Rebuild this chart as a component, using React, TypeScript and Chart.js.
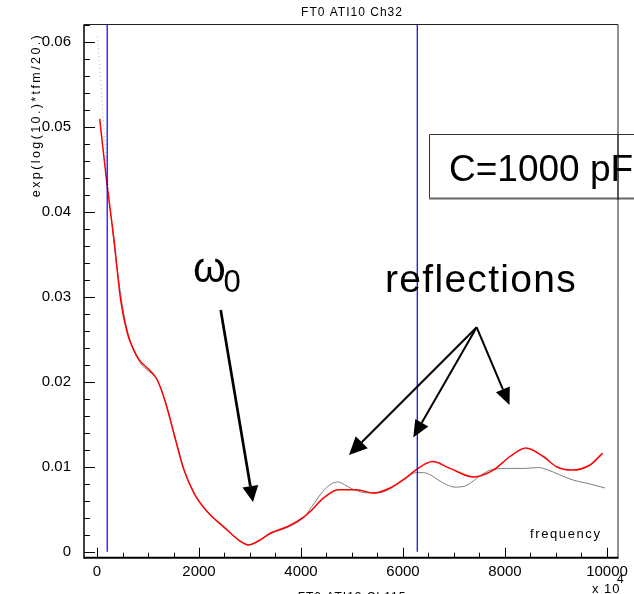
import React, { useEffect, useRef } from 'react';
import { Chart, registerables } from 'chart.js';

Chart.register(...registerables);

// ---- data ----
const redFreq = [53, 202, 333, 464, 595, 700, 824, 1020, 1183, 1346, 1542, 1706, 1902, 2163, 2490, 2817, 2967, 3144, 3405, 3750, 4059, 4176, 4438, 4732, 5092, 5418, 5745, 6039, 6268, 6582, 6922, 7379, 7771, 8098, 8412, 8751, 9013, 9307, 9667, 9915];
const redAmp = [0.0509, 0.0429, 0.0367, 0.0296, 0.0257, 0.0240, 0.0226, 0.0214, 0.0202, 0.0175, 0.0131, 0.0096, 0.0069, 0.0047, 0.0029, 0.0012, 0.0008, 0.0012, 0.0022, 0.0030, 0.0041, 0.0047, 0.0063, 0.0073, 0.0073, 0.0069, 0.0075, 0.0086, 0.0097, 0.0106, 0.0098, 0.0088, 0.0096, 0.0112, 0.0122, 0.0112, 0.0100, 0.0096, 0.0102, 0.0116];

const grayFreq = [6, 60, 104, 150, 235, 300, 400, 550, 700, 850, 1000, 1150, 1300, 1500, 1700, 1900, 2150, 2500, 2800, 2970, 3150, 3400, 3750, 4050, 4200, 4430, 4600, 4730, 4850, 5000, 5200, 5400, 5600, 5750, 6000, 6270, 6400, 6550, 6700, 6850, 7020, 7200, 7350, 7550, 7770, 8100, 8400, 8650, 8850, 9050, 9350, 9650, 9960];
const grayAmp = [0.0606, 0.0565, 0.0526, 0.0488, 0.0422, 0.0382, 0.0330, 0.0272, 0.0240, 0.0222, 0.0213, 0.0205, 0.0184, 0.0142, 0.0098, 0.0069, 0.0048, 0.0028, 0.0013, 0.0008, 0.0012, 0.0021, 0.0029, 0.0040, 0.0052, 0.0071, 0.0080, 0.0082, 0.0079, 0.0074, 0.0070, 0.0069, 0.0070, 0.0074, 0.0085, 0.0093, 0.0093, 0.0090, 0.0084, 0.0079, 0.0076, 0.0077, 0.0082, 0.0091, 0.0097, 0.0098, 0.0098, 0.0099, 0.0096, 0.0091, 0.0084, 0.0080, 0.0075];

const markerFreqs = [200, 6280];

const xTickValues = [0, 2000, 4000, 6000, 8000, 10000];
const yTickValues = [0, 0.01, 0.02, 0.03, 0.04, 0.05, 0.06];
const xMinorStep = 500;
const yMinorStep = 0.002;
const xRange = [-255, 10216];
const yRange = [-0.0007, 0.062];

const titleText = 'FT0 ATI10 Ch32';
const bottomCutText = 'FT0 ATI13 Ch115';
const yTitle = 'exp(log(10.)*tfm/20.)';
const xTitle = 'frequency';
const capLabel = 'C=1000 pF';
const omegaLabel = 'ω';
const omegaSub = '0';
const reflLabel = 'reflections';

const FONT = '"Liberation Sans", Arial, sans-serif';

function arrow(ctx: CanvasRenderingContext2D, x1: number, y1: number, x2: number, y2: number, lw: number, hl: number, hw: number) {
  const a = Math.atan2(y2 - y1, x2 - x1);
  const bx = x2 - hl * Math.cos(a);
  const by = y2 - hl * Math.sin(a);
  ctx.lineWidth = lw;
  ctx.beginPath();
  ctx.moveTo(x1, y1);
  ctx.lineTo(bx, by);
  ctx.stroke();
  const nx = -Math.sin(a), ny = Math.cos(a);
  ctx.beginPath();
  ctx.moveTo(x2, y2);
  ctx.lineTo(bx + nx * hw / 2, by + ny * hw / 2);
  ctx.lineTo(bx - nx * hw / 2, by - ny * hw / 2);
  ctx.closePath();
  ctx.fill();
}

const overlayPlugin = {
  id: 'overlay',
  afterDraw(chart: any) {
    const ctx: CanvasRenderingContext2D = chart.ctx;
    const { left, right, top, bottom } = chart.chartArea;
    const xs = chart.scales.x;
    const ys = chart.scales.y;
    ctx.save();

    // annotation box
    ctx.strokeStyle = '#333';
    ctx.lineWidth = 1;
    ctx.beginPath();
    ctx.moveTo(429.5, 134.5); ctx.lineTo(640, 134.5);
    ctx.moveTo(429.5, 134.5); ctx.lineTo(429.5, 199);
    ctx.stroke();
    ctx.strokeStyle = '#666';
    ctx.lineWidth = 2;
    ctx.beginPath();
    ctx.moveTo(429, 198.5); ctx.lineTo(640, 198.5);
    ctx.stroke();

    // frame
    ctx.strokeStyle = '#222';
    ctx.lineWidth = 1;
    ctx.beginPath();
    ctx.moveTo(left, top); ctx.lineTo(right, top);
    ctx.moveTo(right, top); ctx.lineTo(right, bottom);
    ctx.stroke();
    ctx.strokeStyle = '#000';
    ctx.lineWidth = 1.5;
    ctx.beginPath();
    ctx.moveTo(left, top); ctx.lineTo(left, bottom + 1);
    ctx.stroke();
    ctx.lineWidth = 2;
    ctx.beginPath();
    ctx.moveTo(left, bottom); ctx.lineTo(right + 0.5, bottom);
    ctx.stroke();

    // inward ticks
    ctx.lineWidth = 1;
    ctx.beginPath();
    const xMax = xTickValues[xTickValues.length - 1];
    for (let v = xTickValues[0]; v <= xMax + 1e-9; v += xMinorStep) {
      const px = Math.round(xs.getPixelForValue(v)) + 0.5;
      const major = xTickValues.some((t) => Math.abs(t - v) < 1e-6);
      ctx.moveTo(px, bottom);
      ctx.lineTo(px, bottom - (major ? 10 : 5));
    }
    for (let i = 0; ; i++) {
      const v = yTickValues[0] + i * yMinorStep;
      if (v > yRange[1] + 1e-9) break;
      const py = Math.round(ys.getPixelForValue(v)) + 0.5;
      const major = yTickValues.some((t) => Math.abs(t - v) < 1e-9);
      ctx.moveTo(left, py);
      ctx.lineTo(left + (major ? 11 : 6), py);
    }
    ctx.stroke();

    // texts
    ctx.fillStyle = '#000';
    (ctx as any).letterSpacing = '1px';
    ctx.font = `12px ${FONT}`;
    ctx.textAlign = 'center';
    ctx.textBaseline = 'middle';
    ctx.fillText(titleText, 352, 13);
    ctx.textBaseline = 'alphabetic';
    ctx.fillText(bottomCutText, 352, 601);

    (ctx as any).letterSpacing = '1.6px';
    ctx.font = `13px ${FONT}`;
    ctx.textAlign = 'left';
    ctx.fillText(xTitle, 530, 537.5);

    (ctx as any).letterSpacing = '1px';
    ctx.font = `13px ${FONT}`;
    ctx.fillText('x 10', 592, 593);
    ctx.font = `12px ${FONT}`;
    ctx.fillText('4', 617, 583);

    // y title
    ctx.save();
    ctx.translate(36.5, 115);
    ctx.rotate(-Math.PI / 2);
    (ctx as any).letterSpacing = '2.4px';
    ctx.font = `12.5px ${FONT}`;
    ctx.textAlign = 'center';
    ctx.textBaseline = 'middle';
    ctx.fillText(yTitle, 0, 0);
    ctx.restore();

    // annotations
    (ctx as any).letterSpacing = '0px';
    ctx.textAlign = 'left';
    ctx.textBaseline = 'alphabetic';
    ctx.font = `37px ${FONT}`;
    ctx.fillText(capLabel, 449, 181);
    ctx.font = `42px ${FONT}`;
    ctx.fillText(omegaLabel, 193, 281.5);
    ctx.font = `31px ${FONT}`;
    ctx.fillText(omegaSub, 223.5, 291.5);
    (ctx as any).letterSpacing = '1.3px';
    ctx.font = `39px ${FONT}`;
    ctx.fillText(reflLabel, 385, 291.5);
    (ctx as any).letterSpacing = '0px';

    // right frame line passes over the box text
    ctx.strokeStyle = '#222';
    ctx.lineWidth = 1;
    ctx.beginPath();
    ctx.moveTo(right, 134); ctx.lineTo(right, 200);
    ctx.stroke();

    // arrows
    ctx.strokeStyle = '#000';
    ctx.fillStyle = '#000';
    arrow(ctx, 220.7, 310, 253, 502, 2.7, 16, 16);
    arrow(ctx, 476.7, 327.3, 349, 455, 2, 18, 17);
    arrow(ctx, 476.7, 327.3, 413.3, 437.5, 2, 17, 15);
    arrow(ctx, 476.7, 327.3, 509.5, 405, 2, 17, 15);

    ctx.restore();
  },
};

export default function App() {
  const ref = useRef<HTMLCanvasElement | null>(null);
  useEffect(() => {
    if (!ref.current) return;
    const markerSets = markerFreqs.map((f) => ({
      data: [{ x: f, y: 0 }, { x: f, y: yRange[1] }],
      borderColor: 'rgb(0,0,255)',
      borderWidth: 1.2,
      pointRadius: 0,
      tension: 0,
    }));
    const dim = (c: any) => c.p1.parsed.x <= 300;
    const chart = new Chart(ref.current, {
      type: 'line',
      data: {
        datasets: [
          ...markerSets,
          {
            data: redFreq.map((x, i) => ({ x, y: redAmp[i] })),
            borderColor: 'rgb(255,0,0)',
            borderWidth: 1.5,
            pointRadius: 0,
            cubicInterpolationMode: 'monotone',
          },
          {
            data: grayFreq.map((x, i) => ({ x, y: grayAmp[i] })),
            borderColor: 'rgb(125,125,125)',
            borderWidth: 1,
            pointRadius: 0,
            cubicInterpolationMode: 'monotone',
            segment: {
              borderDash: (c: any) => (dim(c) ? [1, 3] : undefined),
              borderColor: (c: any) => (dim(c) ? 'rgba(140,140,140,0.7)' : undefined),
            },
          },
        ] as any,
      },
      options: {
        animation: false,
        responsive: false,
        events: [],
        layout: { padding: { left: 0, right: 16, top: 24.5, bottom: 0 } },
        plugins: { legend: { display: false }, tooltip: { enabled: false }, title: { display: false } },
        scales: {
          x: {
            type: 'linear',
            min: xRange[0],
            max: xRange[1],
            grid: { display: false, drawTicks: false },
            border: { display: false },
            afterBuildTicks: (s: any) => { s.ticks = xTickValues.map((value) => ({ value })); },
            afterFit: (s: any) => { s.height = 36.3; s.paddingLeft = 0; s.paddingRight = 0; },
            ticks: {
              padding: 5,
              maxRotation: 0,
              autoSkip: false,
              color: '#000',
              font: { family: FONT, size: 15 },
              callback: (v: any) => String(v),
            },
          },
          y: {
            type: 'linear',
            min: yRange[0],
            max: yRange[1],
            grid: { display: false, drawTicks: false },
            border: { display: false },
            afterBuildTicks: (s: any) => { s.ticks = yTickValues.map((value) => ({ value })); },
            afterFit: (s: any) => { s.width = 84; s.paddingTop = 0; s.paddingBottom = 0; },
            ticks: {
              padding: 13,
              autoSkip: false,
              color: '#000',
              font: { family: FONT, size: 15 },
              callback: (v: any) => (v === 0 ? '0' : Number(v).toFixed(2)),
            },
          },
        },
      } as any,
      plugins: [overlayPlugin],
    });
    return () => chart.destroy();
  }, []);
  return (
    <div style={{ position: 'fixed', left: 0, top: 0, width: 634, height: 594, background: '#fff' }}>
      <canvas ref={ref} width={634} height={594} style={{ display: 'block' }} />
    </div>
  );
}
